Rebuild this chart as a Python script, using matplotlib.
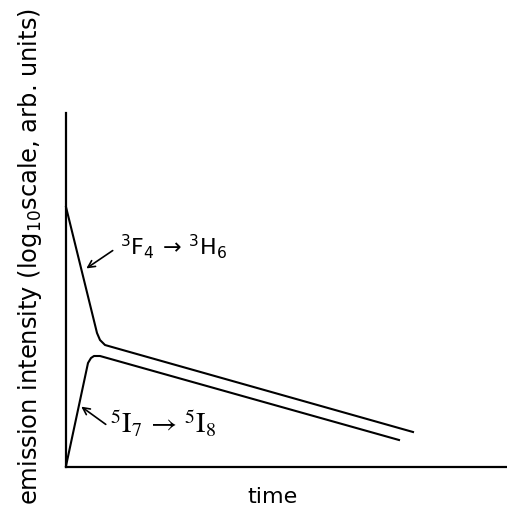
import matplotlib
matplotlib.use("Agg")
import matplotlib.pyplot as plt

# Schematic data (arbitrary units: time vs log10 intensity)
t_F = [0, 31, 34, 39, 46, 347]
y_F = [260, 134, 127, 122, 120, 35]
t_I = [0, 22, 25, 28, 34, 333]
y_I = [1, 104, 109, 111, 111, 27]

label_F = r'$^{3}\mathsf{F}_{4}\,\rightarrow\,^{3}\mathsf{H}_{6}$'
label_I = r'$^{5}\mathrm{I}_{7}\,\rightarrow\,^{5}\mathrm{I}_{8}$'
xlabel = 'time'
ylabel = r'emission intensity (log$_{10}$scale, arb. units)'

W, H = 507, 508
fig = plt.figure(figsize=(W / 100, H / 100), dpi=100)
ax = fig.add_axes([66 / W, (H - 467) / H, (W - 66) / W, (467 - 113) / H])
ax.set_xlim(0, 441)
ax.set_ylim(0, 354)

for s in ['top', 'right']:
    ax.spines[s].set_visible(False)
for s in ['left', 'bottom']:
    ax.spines[s].set_linewidth(1.6)
    ax.spines[s].set_color('black')
ax.set_xticks([])
ax.set_yticks([])

ax.plot(t_F, y_F, color='black', lw=1.5, solid_joinstyle='round', clip_on=False)
ax.plot(t_I, y_I, color='black', lw=1.5, solid_joinstyle='round', clip_on=False)

ax.text(54, 212, label_F, fontsize=16, ha='left', va='baseline')
ax.text(44, 34, label_I, fontsize=20.5, ha='left', va='baseline', math_fontfamily='stix')

ap = dict(arrowstyle='->,head_length=0.5,head_width=0.25', color='black', lw=1.2)
ax.annotate('', xy=(18, 197), xytext=(49, 218), arrowprops=ap)
ax.annotate('', xy=(13, 62), xytext=(42, 41), arrowprops=ap)

fig.text(273 / W, 1 - 503 / H, xlabel, fontsize=16, ha='center', va='baseline')
fig.text(30 / W, 1 - 257 / H, ylabel, fontsize=17.4, rotation=90, ha='center', va='center')

fig.savefig('out.png', dpi=100)
